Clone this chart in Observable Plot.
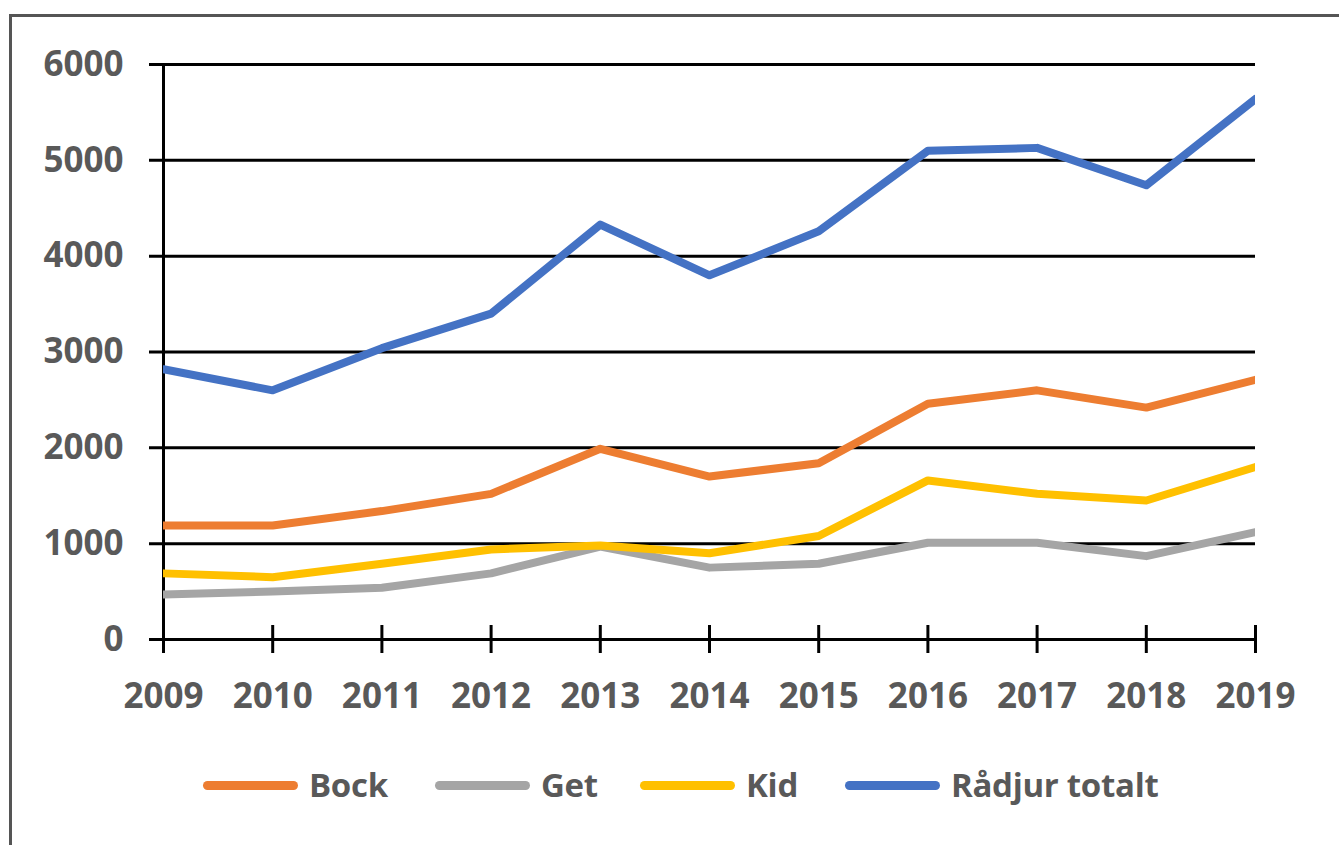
<!DOCTYPE html>
<html>
<head>
<meta charset="utf-8">
<script src="https://cdn.jsdelivr.net/npm/d3@7"></script>
<script src="https://cdn.jsdelivr.net/npm/@observablehq/plot@0.6"></script>
<style>
  html, body { margin: 0; padding: 0; background: #fff; overflow: hidden; }
  body { width: 1339px; height: 845px; position: relative; font-family: "Open Sans", sans-serif; }
  #chart { position: absolute; left: 0; top: 0; }
  #frame { position: absolute; left: 9px; top: 14px; width: 1400px; height: 900px; border: 3px solid #555; pointer-events: none; box-sizing: border-box; }
  #legend { position: absolute; left: 0; top: 760px; width: 1339px; height: 50px; }
  .item { position: absolute; top: 0; display: flex; align-items: center; }
  .sw { width: 95px; height: 9px; border-radius: 5px; margin-right: 11px; }
  .lab { font-family: "Open Sans", sans-serif; font-weight: 700; font-size: 33px; color: #595959; line-height: 50px; letter-spacing: -0.3px; }
</style>
</head>
<body>
<div id="chart"></div>
<div id="legend"></div>
<div id="frame"></div>
<script>
const years = [2009, 2010, 2011, 2012, 2013, 2014, 2015, 2016, 2017, 2018, 2019];
const seriesNames = ["Bock", "Get", "Kid", "Rådjur totalt"];
const seriesColors = ["#ED7D31", "#A5A5A5", "#FFC000", "#4472C4"];
const bock   = [1190, 1190, 1340, 1520, 1990, 1700, 1840, 2460, 2600, 2420, 2710];
const get    = [470, 500, 540, 690, 970, 750, 790, 1010, 1010, 870, 1120];
const kid    = [690, 650, 790, 940, 980, 900, 1080, 1660, 1520, 1450, 1800];
const radjur = [2820, 2600, 3040, 3400, 4330, 3800, 4260, 5100, 5130, 4740, 5640];
const yTicks = [0, 1000, 2000, 3000, 4000, 5000, 6000];
const legendLeft = [203, 435, 640, 845];

const seriesValues = [bock, get, kid, radjur];
const data = [];
seriesNames.forEach((name, i) => {
  years.forEach((yr, j) => data.push({series: name, year: yr, value: seriesValues[i][j]}));
});

const font = {fontSize: 35, fontWeight: "bold", fill: "#595959", fontFamily: "Open Sans"};

const chart = Plot.plot({
  width: 1339,
  height: 740,
  marginLeft: 163,
  marginRight: 84,
  marginTop: 64,
  marginBottom: 101,
  style: {background: "transparent", fontFamily: "Open Sans"},
  x: {domain: [2009, 2019], label: null},
  y: {domain: [0, 6000], label: null},
  color: {domain: seriesNames, range: seriesColors},
  marks: [
    Plot.ruleY(yTicks, {stroke: "#000", strokeWidth: 3, insetLeft: -14}),
    Plot.ruleX([years[0]], {stroke: "#000", strokeWidth: 3, insetBottom: -14}),
    Plot.axisX(years, {tickSize: 28, dy: -14, strokeWidth: 3, stroke: "#000", tickFormat: () => "", label: null}),
    Plot.axisX(years, {tickSize: 0, tickPadding: 44, tickFormat: d => String(d), label: null, ...font}),
    Plot.axisY(yTicks, {tickSize: 0, tickPadding: 40, tickFormat: d => String(d), label: null, ...font}),
    Plot.lineY(data, {x: "year", y: "value", z: "series", stroke: "series", strokeWidth: 8, strokeLinejoin: "round", clip: "frame"})
  ]
});
document.getElementById("chart").appendChild(chart);

const legend = document.getElementById("legend");
seriesNames.forEach((name, i) => {
  const item = document.createElement("div");
  item.className = "item";
  item.style.left = legendLeft[i] + "px";
  const sw = document.createElement("div");
  sw.className = "sw";
  sw.style.background = seriesColors[i];
  const lab = document.createElement("span");
  lab.className = "lab";
  lab.textContent = name;
  item.appendChild(sw);
  item.appendChild(lab);
  legend.appendChild(item);
});
</script>
</body>
</html>
